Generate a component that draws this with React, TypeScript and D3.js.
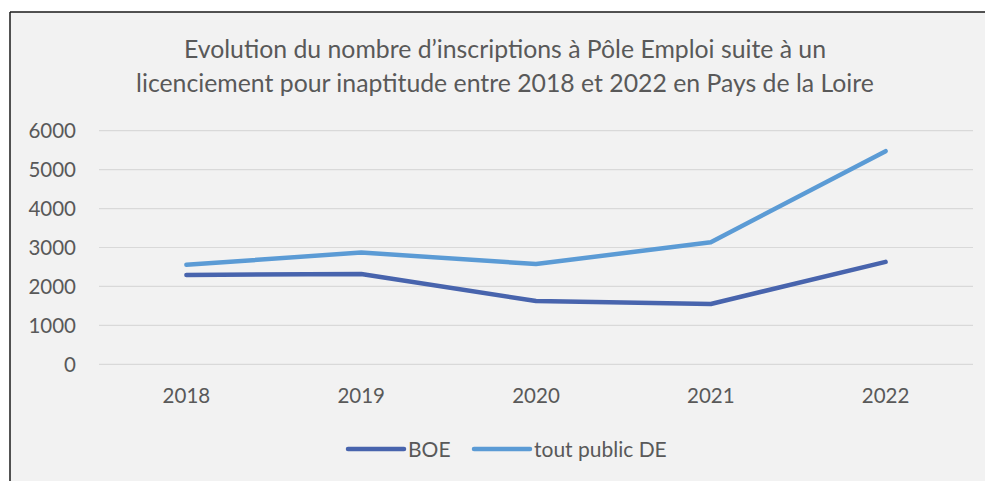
import React from "react";
import * as d3 from "d3";

const years = ["2018", "2019", "2020", "2021", "2022"];
const boe = [2295, 2320, 1625, 1550, 2630];
const toutPublic = [2555, 2870, 2575, 3135, 5475];
const yTicks = [0, 1000, 2000, 3000, 4000, 5000, 6000];
const seriesNames = ["BOE", "tout public DE"];
const seriesColors = ["#4864ad", "#5b9bd5"];

const W = 985;
const H = 481;
const FONT = "Lato, 'Open Sans', sans-serif";

const App = () => {
  const x = d3.scaleBand().domain(years).range([99, 973]);
  const y = d3.scaleLinear().domain([0, 6000]).range([364.3, 130.7]);
  const line = d3
    .line<number>()
    .x((_, i) => (x(years[i]) as number) + x.bandwidth() / 2)
    .y((d) => y(d));
  const series = [boe, toutPublic];

  return (
    <div style={{ position: "absolute", left: 0, top: 0 }}>
      <svg width={W} height={H} style={{ display: "block" }}>
        <rect x={0} y={0} width={W} height={H} fill="#ffffff" />
        <rect x={10} y={12} width={W - 10} height={H - 12} fill="#f2f2f2" />
        <line x1={10} y1={12} x2={W} y2={12} stroke="#1a1a1a" strokeWidth={1.5} />
        <line x1={10} y1={12} x2={10} y2={H} stroke="#1a1a1a" strokeWidth={1.5} />

        <g fontFamily={FONT} fill="#595959" textAnchor="middle" fontSize={24.8}>
          <text x={505} y={58}>
            Evolution du nombre d’inscriptions à Pôle Emploi suite à un
          </text>
          <text x={505} y={92}>
            licenciement pour inaptitude entre 2018 et 2022 en Pays de la Loire
          </text>
        </g>

        <g>
          {yTicks.map((t) => (
            <line
              key={t}
              x1={99}
              x2={973}
              y1={y(t)}
              y2={y(t)}
              stroke="#d9d9d9"
              strokeWidth={1.2}
            />
          ))}
        </g>

        <g fontFamily={FONT} fill="#595959" fontSize={20.5}>
          {yTicks.map((t) => (
            <text key={t} x={76} y={y(t)} dy="0.36em" textAnchor="end">
              {t}
            </text>
          ))}
          {years.map((yr) => (
            <text
              key={yr}
              x={(x(yr) as number) + x.bandwidth() / 2}
              y={402.5}
              textAnchor="middle"
            >
              {yr}
            </text>
          ))}
        </g>

        <g fill="none" strokeWidth={4.5} strokeLinecap="round" strokeLinejoin="round">
          {series.map((s, i) => (
            <path key={i} d={line(s) || ""} stroke={seriesColors[i]} />
          ))}
        </g>

        <g fontFamily={FONT} fill="#595959" fontSize={21}>
          {seriesNames.map((n, i) => {
            const lx = [348, 474][i];
            return (
              <g key={n}>
                <line
                  x1={lx}
                  x2={lx + 56}
                  y1={449}
                  y2={449}
                  stroke={seriesColors[i]}
                  strokeWidth={4.5}
                  strokeLinecap="round"
                />
                <text x={lx + 60} y={449} dy="0.36em">
                  {n}
                </text>
              </g>
            );
          })}
        </g>
      </svg>
    </div>
  );
};

export default App;
